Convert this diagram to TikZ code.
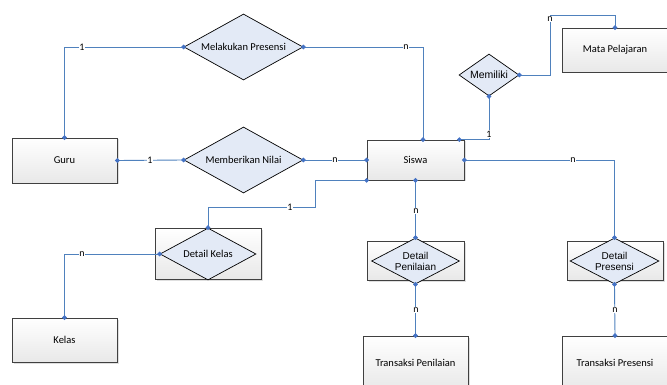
\documentclass[tikz,border=0pt]{standalone}
\usepackage{fontspec}
\setmainfont{Carlito}
\newfontfamily\arialf{Liberation Sans}
\usetikzlibrary{shapes.geometric,arrows.meta,shadows,calc}
\definecolor{lineblue}{HTML}{4F81BD}
\definecolor{dotblue}{HTML}{4472C4}
\definecolor{dfill}{HTML}{E3EAF6}
\definecolor{boxedge}{HTML}{404040}
\begin{document}
\begin{tikzpicture}[x=1pt,y=-1pt,
  entity/.style={draw=boxedge, line width=0.7pt, top color=white, bottom color=black!9,
    drop shadow={shadow xshift=1.5pt, shadow yshift=-1.5pt, opacity=0.25},
    font=\fontsize{10.5}{12}\selectfont, inner sep=0pt},
  rel/.style={diamond, draw=black, line width=0.7pt, fill=dfill, inner sep=0pt,
    font=\fontsize{10.5}{12}\selectfont},
  relar/.style={rel, font=\arialf\fontsize{10}{11}\selectfont, align=center},
  conn/.style={draw=lineblue, line width=0.9pt,
    {Circle[length=4.5pt,color=dotblue]}-{Circle[length=4.5pt,color=dotblue]},
    shorten <=-2.25pt, shorten >=-2.25pt},
  lbl/.style={fill=white, inner sep=0.6pt, font=\fontsize{10}{11}\selectfont}
]
\useasboundingbox (0,0) rectangle (667,385);
\clip (0,0) rectangle (667,385);

% entities
\node[entity, minimum width=105pt, minimum height=45pt] (guru) at (64.5,160.5) {Guru};
\node[entity, minimum width=105pt, minimum height=44pt] (kelas) at (64.5,340) {Kelas};
\node[entity, minimum width=97pt, minimum height=40pt] (siswa) at (415.5,160) {Siswa};
\node[entity, minimum width=106pt, minimum height=44pt] (matap) at (615,50) {Mata Pelajaran};
\node[entity, minimum width=105pt, minimum height=54pt] (tpen) at (415.5,363) {Transaksi Penilaian};
\node[entity, minimum width=106pt, minimum height=54pt] (tpres) at (615,363) {Transaksi Presensi};

% associative entity boxes
\node[entity, minimum width=106pt, minimum height=51pt] (dkbox) at (208,253.5) {};
\node[entity, minimum width=97pt, minimum height=39pt] (dpenbox) at (415.5,260.5) {};
\node[entity, minimum width=96pt, minimum height=39pt] (dpresbox) at (615,260.5) {};

% relationships
\node[rel, aspect=1.8, minimum width=119pt, minimum height=66pt] (melak) at (243.5,47) {Melakukan Presensi};
\node[rel, aspect=1.8, minimum width=119pt, minimum height=66pt] (memb) at (243.5,160) {Memberikan Nilai};
\node[relar, aspect=1.43, minimum width=60pt, minimum height=42pt, font=\arialf\fontsize{10.5}{12}\selectfont] (mem) at (489,75) {Memiliki};
\node[rel, aspect=1.85, minimum width=96pt, minimum height=52pt] (dk) at (208,254) {Detail Kelas};
\node[relar, aspect=1.9, minimum width=88pt, minimum height=46pt] (dpen) at (415.5,261) {Detail\\Penilaian};
\node[relar, aspect=1.9, minimum width=89pt, minimum height=46pt] (dpres) at (614.5,261) {Detail\\Presensi};

% connectors
\draw[conn] (guru.north) |- (melak.west);
\draw[conn] (guru.east) -- (memb.west);
\draw[conn] (memb.east) -- (siswa.west);
\draw[conn] (melak.east) -| ([xshift=7.5pt]siswa.north);
\draw[conn] (mem.south) |- ([xshift=-5pt]siswa.north east);
\draw[conn] (mem.east) -| (550,15) -| (matap.north);
\draw[conn] (siswa.east) -| (dpres.north);
\draw[conn] (siswa.south west) -| (315,207) -| (dk.north);
\draw[conn] (dk.west) -| (kelas.north);
\draw[conn] (siswa.south) -- (dpen.north);
\draw[conn] (dpen.south) -- (tpen.north);
\draw[conn] (dpres.south) -- (tpres.north);

% cardinality labels
\node[lbl] (l1) at (82,47) {1};
\node[lbl] (l2) at (150,160) {1};
\node[lbl] (l3) at (335,160) {n};
\node[lbl] (l4) at (406,47) {n};
\node[lbl] (l5) at (489,134) {1};
\node[lbl] (l6) at (550,19) {n};
\node[lbl] (l7) at (573,160) {n};
\node[lbl] (l8) at (290,207) {1};
\node[lbl] (l9) at (82,254) {n};
\node[lbl] (l10) at (416,211) {n};
\node[lbl] (l11) at (416,310) {n};
\node[lbl] (l12) at (615,310) {n};
\end{tikzpicture}
\end{document}
